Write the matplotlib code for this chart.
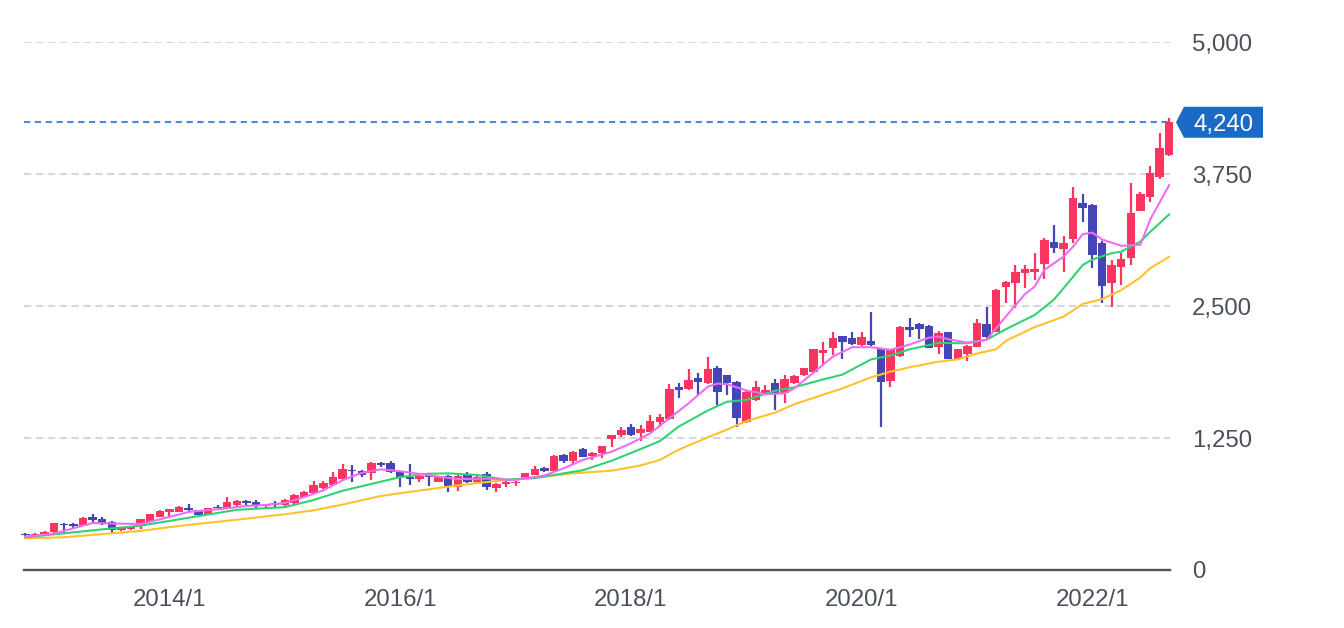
import matplotlib
matplotlib.use('Agg')
import matplotlib.pyplot as plt
from matplotlib.patches import Rectangle, Polygon
from matplotlib import transforms

plt.rcParams['font.family'] = ['Liberation Sans', 'DejaVu Sans']

# 月足 2012/10 .. 2022/9
start_year, start_month = 2012, 10
opens = [345, 335, 340, 357, 440, 435, 420, 500, 480, 455,
         380, 385, 430, 458, 505, 548, 548, 590, 565, 525,
         600, 590, 616, 650, 647, 605, 630, 616, 632, 694,
         726, 774, 805, 862, 950, 940, 922, 1010, 1010, 930,
         885, 865, 895, 836, 890, 789, 910, 836, 905, 774,
         812, 820, 868, 900, 965, 940, 1089, 1036, 1146, 1080,
         1105, 1237, 1278, 1351, 1294, 1310, 1405, 1430, 1736, 1711,
         1815, 1768, 1910, 1845, 1785, 1400, 1610, 1673, 1768, 1673,
         1768, 1847, 1878, 2058, 2099, 2216, 2194, 2131, 2169, 2099,
         1793, 2026, 2304, 2330, 2311, 2115, 2251, 1998, 2046, 2115,
         2330, 2257, 2683, 2714, 2810, 2825, 2894, 3109, 3040, 3135,
         3473, 3457, 3100, 2714, 2872, 2952, 3400, 3529, 3725, 3930]
highs = [352, 350, 365, 445, 448, 448, 502, 530, 505, 465,
         410, 415, 485, 535, 565, 580, 605, 625, 570, 590,
         615, 690, 660, 660, 660, 625, 655, 670, 715, 745,
         843, 843, 925, 1004, 995, 945, 1020, 1020, 1030, 935,
         1000, 895, 900, 890, 895, 895, 925, 890, 931, 820,
         840, 840, 920, 985, 980, 1085, 1095, 1125, 1155, 1115,
         1178, 1282, 1355, 1383, 1373, 1468, 1477, 1761, 1768, 1900,
         1870, 2014, 1932, 1850, 1790, 1700, 1790, 1752, 1806, 1847,
         1845, 1915, 2095, 2162, 2251, 2220, 2257, 2257, 2440, 2105,
         2095, 2310, 2383, 2335, 2318, 2267, 2255, 2095, 2130, 2374,
         2490, 2660, 2740, 2888, 2888, 2999, 3141, 3267, 3163, 3630,
         3561, 3465, 3116, 2936, 2999, 3668, 3583, 3826, 4141, 4277]
lows = [325, 330, 335, 352, 355, 400, 415, 450, 430, 355,
        370, 380, 390, 455, 500, 500, 545, 545, 520, 520,
        585, 585, 610, 615, 590, 590, 585, 610, 625, 690,
        720, 770, 800, 855, 833, 880, 852, 980, 920, 790,
        805, 830, 795, 830, 735, 745, 820, 810, 758, 742,
        790, 800, 860, 895, 925, 935, 1016, 1005, 1070, 1041,
        1060, 1165, 1256, 1270, 1225, 1305, 1351, 1425, 1626, 1705,
        1647, 1760, 1563, 1657, 1357, 1389, 1600, 1660, 1515, 1584,
        1760, 1840, 1870, 1941, 2036, 1995, 2130, 2125, 2125, 1351,
        1730, 2020, 2210, 2185, 2100, 2046, 1995, 1990, 1979, 2110,
        2200, 2250, 2530, 2478, 2667, 2746, 2753, 3005, 2825, 3094,
        3296, 2863, 2525, 2493, 2699, 2888, 3395, 3488, 3700, 3925]
closes = [335, 345, 360, 442, 425, 420, 495, 470, 445, 380,
          400, 410, 480, 530, 560, 575, 600, 565, 525, 585,
          590, 647, 653, 635, 620, 620, 612, 663, 710, 741,
          805, 821, 878, 956, 935, 900, 1016, 990, 925, 885,
          865, 890, 880, 884, 795, 890, 830, 884, 789, 814,
          836, 836, 916, 953, 935, 1080, 1036, 1120, 1073, 1111,
          1174, 1278, 1326, 1278, 1335, 1411, 1452, 1714, 1700, 1799,
          1785, 1900, 1683, 1770, 1437, 1690, 1730, 1705, 1673, 1809,
          1837, 1910, 2090, 2083, 2200, 2162, 2140, 2203, 2131, 1783,
          2090, 2304, 2273, 2280, 2105, 2241, 1998, 2090, 2124, 2342,
          2204, 2652, 2730, 2825, 2847, 2847, 3125, 3046, 3100, 3520,
          3430, 2983, 2692, 2888, 2942, 3384, 3561, 3763, 4000, 4240]

# 移動平均線
ma_short_idx = [0, 3, 5, 7, 9, 12, 14, 17, 20, 23, 25, 27, 29, 31, 33, 35, 37, 39, 41, 43,
                45, 48, 51, 54, 56, 58, 61, 63, 65, 67, 69, 71, 72, 73, 75, 77, 79, 80, 82, 84,
                86, 88, 90, 92, 94, 95, 96, 98, 100, 102, 104, 105, 106, 108, 109, 110, 111, 112,
                114, 116, 117, 119]
ma_short = [316, 345, 395, 445, 440, 436, 480, 550, 575, 606, 616, 635, 690, 755, 850, 920, 953, 935, 910, 884,
            862, 865, 852, 895, 963, 1042, 1120, 1200, 1294, 1437, 1578, 1736, 1765, 1760, 1700, 1665, 1673, 1720, 1870, 2020,
            2110, 2110, 2085, 2135, 2200, 2210, 2185, 2153, 2180, 2400, 2614, 2683, 2841, 2967, 3062, 3180, 3195, 3130,
            3070, 3080, 3315, 3646]
ma_mid_idx = [0, 4, 8, 12, 16, 22, 27, 30, 33, 36, 39, 42, 44, 47, 50, 53, 56, 58, 61, 63,
              66, 68, 71, 73, 75, 78, 80, 83, 85, 88, 90, 92, 95, 98, 100, 102, 105, 107, 108, 110,
              111, 113, 114, 116, 117, 119]
ma_mid = [310, 347, 385, 420, 480, 570, 595, 663, 750, 815, 880, 912, 915, 900, 855, 870, 915, 945, 1035, 1108,
          1220, 1360, 1510, 1594, 1610, 1698, 1730, 1805, 1850, 1995, 2030, 2090, 2150, 2147, 2180, 2280, 2415, 2560, 2667, 2888,
          2940, 3000, 3015, 3110, 3200, 3368]
ma_long_idx = [0, 4, 8, 12, 16, 22, 27, 30, 33, 37, 40, 44, 47, 50, 54, 57, 61, 64, 66, 68,
               71, 73, 75, 78, 80, 82, 85, 88, 90, 92, 95, 97, 99, 101, 102, 105, 108, 110, 112, 114,
               116, 117, 119]
ma_long = [300, 310, 340, 370, 417, 476, 528, 565, 620, 701, 740, 789, 823, 852, 884, 916, 940, 990, 1042, 1140,
           1256, 1330, 1410, 1490, 1570, 1630, 1720, 1825, 1878, 1920, 1973, 1995, 2050, 2090, 2170, 2300, 2399, 2519, 2565, 2650,
           2770, 2857, 2967]

tick_labels = ['2014/1', '2016/1', '2018/1', '2020/1', '2022/1']
y_ticks = [0, 1250, 2500, 3750, 5000]
last_price = 4240

UP = '#fc3560'
DOWN = '#4546b5'
TXT = '#4a5059'
FS = 17.3


def month_index(label):
    y, m = label.split('/')
    return (int(y) - start_year) * 12 + int(m) - start_month


def draw_candles(ax, width=0.88):
    for i, (o, h, l, c) in enumerate(zip(opens, highs, lows, closes)):
        col = UP if c >= o else DOWN
        ax.plot([i, i], [l, h], color=col, lw=1.6, solid_capstyle='butt', zorder=3, clip_on=False)
        lo = min(o, c)
        ht = max(abs(c - o), 8)
        ax.add_patch(Rectangle((i - width / 2, lo), width, ht, facecolor=col, edgecolor='none',
                               zorder=3, clip_on=False))


def main():
    W, H = 1344, 628
    fig = plt.figure(figsize=(W / 100, H / 100), dpi=100)
    left, right, top, bottom = 24, 1170, 42, 570
    ax = fig.add_axes([left / W, (H - bottom) / H, (right - left) / W, (bottom - top) / H])
    n = len(closes)
    x0 = -0.135
    x1 = x0 + (right - left) / 9.613
    ax.set_xlim(x0, x1)
    ax.set_ylim(0, 5000)

    # 横グリッド
    for v in y_ticks[1:]:
        ax.axhline(v, color='#d6d6d6', lw=1.5, dashes=(3.5, 2.2), zorder=1)

    draw_candles(ax)

    # 移動平均線
    ax.plot(ma_long_idx, ma_long, color='#ffc22e', lw=1.5, zorder=4)
    ax.plot(ma_mid_idx, ma_mid, color='#2fd374', lw=1.5, zorder=4)
    ax.plot(ma_short_idx, ma_short, color='#f06cf2', lw=1.5, zorder=4)

    # 現在値ライン
    ax.axhline(last_price, color='#4a88d8', lw=1.5, dashes=(3, 2.2), zorder=2)

    for s in ['top', 'right', 'left']:
        ax.spines[s].set_visible(False)
    ax.spines['bottom'].set_color('#4b535c')
    ax.spines['bottom'].set_linewidth(1.7)

    ax.set_xticks([month_index(t) for t in tick_labels])
    ax.set_xticklabels(tick_labels)
    ax.yaxis.tick_right()
    ax.set_yticks(y_ticks)
    ax.set_yticklabels([f'{v:,}' for v in y_ticks])
    ax.tick_params(axis='x', length=0, pad=13.5, labelsize=FS, labelcolor=TXT)
    ax.tick_params(axis='y', length=0, pad=16, labelsize=FS, labelcolor=TXT)

    # 現在値ラベル (x は画素, y はデータ)
    trans = transforms.blended_transform_factory(transforms.IdentityTransform(), ax.transData)
    ppu = (bottom - top) / 5000.0
    hh = 15.5 / ppu
    tip, bl, br = 1176, 1184, 1263
    poly = Polygon([(tip, last_price), (bl, last_price + hh), (br, last_price + hh),
                    (br, last_price - hh), (bl, last_price - hh)],
                   closed=True, facecolor='#1a6bc6', edgecolor='none', transform=trans,
                   clip_on=False, zorder=5)
    ax.add_patch(poly)
    ax.text(1193, last_price, f'{last_price:,}', transform=trans, color='white', fontsize=FS,
            ha='left', va='center_baseline', zorder=6, clip_on=False)

    fig.savefig('out.png', dpi=100)


if __name__ == "__main__":
    main()
